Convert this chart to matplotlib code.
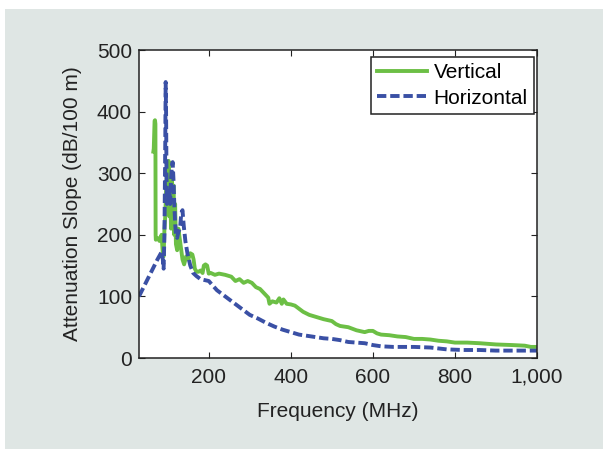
import numpy as np
import matplotlib.pyplot as plt
from matplotlib.patches import Rectangle

plt.rcParams['font.family'] = ['Liberation Sans', 'DejaVu Sans']

# Vertical polarisation
vert_f = [65, 66, 68, 69, 70, 70.5, 71, 75, 80, 85, 88, 90, 92, 94, 96, 98, 100, 102, 104, 106,
          108, 110, 112, 114, 116, 118, 120, 123, 126, 130, 133, 136, 140, 145, 150, 155, 160, 163,
          166, 170, 175, 180, 185, 188, 192, 196, 200, 205, 215, 225, 240, 255, 265, 275, 285, 295,
          305, 315, 325, 335, 345, 348, 355, 365, 372, 378, 382, 390, 400, 410, 420, 430, 445, 460,
          480, 500, 510, 520, 540, 560, 580, 590, 600, 610, 620, 640, 660, 680, 700, 720, 740, 760,
          780, 800, 830, 860, 900, 940, 970, 985, 1000]
vert_a = [335, 340, 385, 386, 380, 200, 192, 195, 190, 200, 170, 165, 210, 230, 270, 300, 250, 320,
          230, 290, 210, 300, 230, 280, 200, 250, 185, 175, 210, 190, 175, 160, 152, 165, 160, 170,
          168, 160, 145, 140, 140, 142, 138, 150, 152, 150, 137, 138, 135, 137, 135, 132, 125, 128,
          122, 125, 122, 115, 112, 105, 98, 88, 92, 90, 97, 88, 95, 88, 87, 85, 80, 75, 70, 67, 63,
          60, 55, 52, 50, 45, 42, 44, 44, 40, 38, 37, 35, 34, 31, 31, 30, 28, 27, 25, 25, 24, 22,
          21, 20, 18, 18]

# Horizontal polarisation
horiz_f = [30, 45, 60, 75, 85, 88, 90, 92, 94, 95, 96, 97, 98, 100, 102, 104, 106, 108, 110, 112,
           114, 116, 118, 120, 123, 126, 130, 133, 136, 139, 143, 148, 155, 162, 170, 180, 200, 220,
           240, 260, 280, 300, 320, 340, 360, 380, 400, 420, 440, 460, 480, 500, 520, 540, 560, 580,
           600, 620, 650, 700, 740, 780, 820, 860, 900, 950, 1000]
horiz_a = [100, 120, 140, 160, 172, 160, 145, 200, 350, 448, 400, 300, 250, 270, 255, 275, 250, 290,
           310, 318, 290, 250, 220, 200, 195, 205, 210, 235, 240, 215, 190, 170, 150, 138, 133, 128,
           125, 110, 100, 90, 80, 70, 64, 57, 51, 46, 42, 38, 36, 34, 32, 31, 29, 26, 25, 24, 21,
           19, 18, 18, 17, 14, 13, 13, 12, 12, 12]

fig = plt.figure(figsize=(6.03, 4.49), dpi=100, facecolor='white')
fig.patches.append(Rectangle((5 / 603, 0), 1, (449 - 9) / 449, transform=fig.transFigure,
                             facecolor='#dfe6e4', edgecolor='none', zorder=-10))

ax = fig.add_axes([139 / 603, 1 - 358 / 449, (537 - 139) / 603, (358 - 50) / 449])
ax.plot(vert_f, vert_a, color='#6cbf45', lw=2.8, label='Vertical')
ax.plot(horiz_f, horiz_a, color='#3a50a5', lw=2.8, dashes=(2.4, 1.0), label='Horizontal')

ax.set_xlim(30, 1000)
ax.set_ylim(0, 500)
ax.set_xticks([200, 400, 600, 800, 1000])
ax.set_xticklabels(['200', '400', '600', '800', '1,000'])
ax.set_yticks([0, 100, 200, 300, 400, 500])
ax.tick_params(direction='in', length=4, width=0.8, top=True, right=True, labelsize=15,
               colors='#222222', pad=5)
ax.tick_params(axis='x', pad=7)
for s in ax.spines.values():
    s.set_linewidth(1.1)
    s.set_color('#222222')

ax.set_xlabel('Frequency (MHz)', fontsize=15, color='#222222', labelpad=11)
ax.set_ylabel('Attenuation Slope (dB/100 m)', fontsize=15, color='#222222', labelpad=11)

leg = ax.legend(loc='upper right', bbox_to_anchor=(0.9925, 0.977), fontsize=15, fancybox=False,
                framealpha=1, edgecolor='#222222', borderaxespad=0, handlelength=2.4,
                handletextpad=0.3, borderpad=0.3, labelspacing=0.3)
leg.get_frame().set_linewidth(1.1)

fig.savefig('out.png', dpi=100, facecolor=fig.get_facecolor())
